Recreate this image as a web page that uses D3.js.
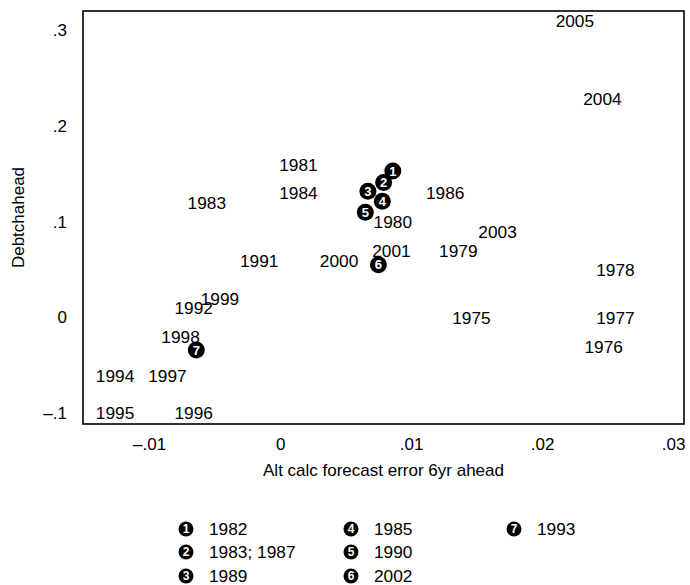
<!DOCTYPE html>
<html>
<head>
<meta charset="utf-8">
<script src="https://cdn.jsdelivr.net/npm/d3@7"></script>
<style>
  html, body { margin: 0; padding: 0; background: #fff; }
  svg { display: block; }
  text { font-family: "Liberation Sans", Arial, sans-serif; fill: #000; }
</style>
</head>
<body>
<svg id="chart" width="690" height="585"></svg>
<script>
// ---- data ----
const labelYears = ["2005","2004","1981","1984","1983","1986","1980","2003","2001","1979","2000","1991","1978","1999","1992","1975","1977","1976","1998","1994","1997","1995","1996"];
const labelX = [0.0225,0.0246,0.0014,0.0014,-0.0056,0.0126,0.0086,0.0166,0.0085,0.0136,0.0045,-0.0016,0.0256,-0.0046,-0.0066,0.0146,0.0256,0.0247,-0.0076,-0.0126,-0.0086,-0.0126,-0.0066];
const labelY = [0.310,0.229,0.1595,0.130,0.120,0.130,0.100,0.0894,0.0696,0.0696,0.0591,0.0591,0.0497,0.0194,0.0099,-0.0005,-0.0005,-0.0309,-0.0204,-0.0612,-0.0612,-0.0999,-0.0999];

const markerNums = ["1","2","3","4","5","6","7"];
const markerX = [0.0086,0.0079,0.0067,0.0078,0.0065,0.0075,-0.0064];
const markerY = [0.1530,0.1410,0.1320,0.1215,0.1100,0.0550,-0.0340];
const legendText = ["1982","1983; 1987","1989","1985","1990","2002","1993"];

const xTicks = [-0.01, 0, 0.01, 0.02, 0.03];
const yTicks = [-0.1, 0, 0.1, 0.2, 0.3];
const xTitle = "Alt calc forecast error 6yr ahead";
const yTitle = "Debtchahead";

// ---- layout ----
const svg = d3.select("#chart");
const L = 83, R = 684, T = 11, B = 424;
const x = d3.scaleLinear().domain([-0.01505, 0.03083]).range([L, R]);
const y = d3.scaleLinear().domain([-0.1115, 0.3204]).range([B, T]);

const fmt = v => {
  if (Math.abs(v) < 1e-12) return "0";
  const s = Math.abs(v).toString().replace(/^0/, "");
  return (v < 0 ? "\u2013" : "") + s;
};

// frame
svg.append("rect").attr("x", L).attr("y", T).attr("width", R - L).attr("height", B - T)
  .attr("fill", "none").attr("stroke", "#000").attr("stroke-width", 1.6);

// axes
const gx = svg.append("g").attr("transform", `translate(0,${B})`)
  .call(d3.axisBottom(x).tickValues(xTicks).tickSize(0).tickPadding(14).tickFormat(fmt));
gx.select(".domain").remove();
gx.selectAll("text").attr("font-size", 17).attr("font-family", "Liberation Sans, Arial, sans-serif").attr("fill", "#000");

const gy = svg.append("g").attr("transform", `translate(${L},0)`)
  .call(d3.axisLeft(y).tickValues(yTicks).tickSize(0).tickPadding(16).tickFormat(fmt));
gy.select(".domain").remove();
gy.selectAll("text").attr("font-size", 17).attr("font-family", "Liberation Sans, Arial, sans-serif").attr("fill", "#000");

// titles
svg.append("text").attr("x", (L + R) / 2).attr("y", 476).attr("text-anchor", "middle")
  .attr("font-size", 17).text(xTitle);
svg.append("text").attr("transform", `translate(24,${(T + B) / 2}) rotate(-90)`)
  .attr("text-anchor", "middle").attr("font-size", 17).text(yTitle);

// year labels
svg.append("g").selectAll("text").data(labelYears).join("text")
  .attr("x", (d, i) => x(labelX[i])).attr("y", (d, i) => y(labelY[i]))
  .attr("dy", "0.36em").attr("text-anchor", "middle").attr("font-size", 17.3).text(d => d);

// numbered markers
const mk = svg.append("g").selectAll("g").data(markerNums).join("g")
  .attr("transform", (d, i) => `translate(${x(markerX[i])},${y(markerY[i])})`);
mk.append("circle").attr("r", 8.5).attr("fill", "#000");
mk.append("text").attr("text-anchor", "middle").attr("dy", "0.36em").attr("font-size", 13)
  .attr("font-weight", "bold").style("fill", "#fff").text(d => d);

// legend
const colX = [186, 351, 514];
const rowY = [529, 552, 576];
const lg = svg.append("g").selectAll("g").data(markerNums).join("g")
  .attr("transform", (d, i) => `translate(${colX[Math.floor(i / 3)]},${rowY[i % 3]})`);
lg.append("circle").attr("r", 7.5).attr("fill", "#000");
lg.append("text").attr("text-anchor", "middle").attr("dy", "0.36em").attr("font-size", 12)
  .attr("font-weight", "bold").style("fill", "#fff").text(d => d);
lg.append("text").attr("x", 23).attr("dy", "0.36em").attr("font-size", 17.3)
  .text((d, i) => legendText[i]);
</script>
</body>
</html>
